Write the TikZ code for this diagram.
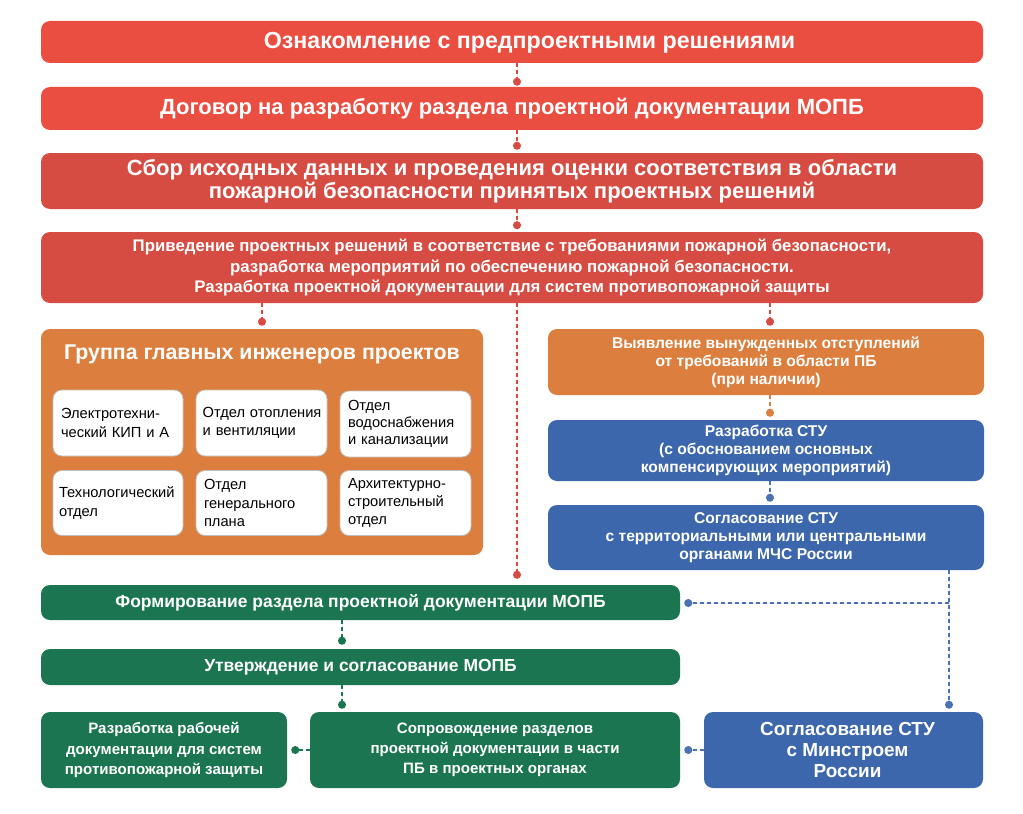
\documentclass[tikz,border=0pt]{standalone}
\usepackage{fontspec}
\setmainfont{Liberation Sans}
\usetikzlibrary{arrows.meta}
\definecolor{cRedA}{HTML}{E94E41}
\definecolor{cRedB}{HTML}{D64C42}
\definecolor{cOrange}{HTML}{DC7F3E}
\definecolor{cBlue}{HTML}{3D67AC}
\definecolor{cBlueL}{HTML}{4A72B5}
\definecolor{cGreen}{HTML}{1B7551}
\begin{document}
\begin{tikzpicture}[x=0.75pt,y=-0.75pt,
  box/.style={rounded corners=6.75pt, text=white, align=center, inner sep=0pt},
  fbig/.style={font=\bfseries\fontsize{16.5}{17.5}\selectfont},
  fmid/.style={font=\bfseries\fontsize{12.6}{15.4}\selectfont},
  fsm/.style={font=\bfseries\fontsize{11.7}{13.4}\selectfont},
  fgr/.style={font=\bfseries\fontsize{13.1}{15}\selectfont},
  fbot/.style={font=\bfseries\fontsize{11.3}{15.2}\selectfont},
  wbox/.style={rounded corners=6.75pt, fill=white, draw=black!25, line width=0.6pt, align=left, inner xsep=6pt, inner ysep=0pt, font=\fontsize{11}{14}\selectfont, minimum height=49.5pt},
  conn/.style={dash pattern=on 3pt off 2.25pt, line width=0.975pt, -{Circle[length=6pt]}, shorten >=1.875pt},
  rc/.style={conn, draw=cRedB, fill=cRedB},
  oc/.style={conn, draw=cOrange, fill=cOrange},
  bc/.style={conn, draw=cBlueL, fill=cBlueL},
  gc/.style={conn, draw=cGreen, fill=cGreen}]
\fill[white] (0,0) rectangle (1023,813);
% top chain
\node[box, fill=cRedA, minimum width=706.5pt, minimum height=31.5pt] (b1) at (512,42) {};
\node[text=white, inner sep=0pt, font=\bfseries\fontsize{17.4}{18}\selectfont] (b1t) at (529.5,43) {Ознакомление с предпроектными решениями};
\node[box, fbig, fill=cRedA, minimum width=706.5pt, minimum height=32.25pt] (b2) at (512,108.5) {Договор на разработку раздела проектной документации МОПБ};
\node[box, fbig, fill=cRedB, minimum width=706.5pt, minimum height=42pt] (b3) at (512,181) {Сбор исходных данных и проведения оценки соответствия в области\\пожарной безопасности принятых проектных решений};
\node[box, fmid, fill=cRedB, minimum width=706.5pt, minimum height=53.25pt] (b4) at (512,267.5) {Приведение проектных решений в соответствие с требованиями пожарной безопасности,\\разработка мероприятий по обеспечению пожарной безопасности.\\Разработка проектной документации для систем противопожарной защиты};
% group
\node[box, fill=cOrange, minimum width=331.5pt, minimum height=169.5pt] (grp) at (262,442) {};
\node[text=white, font=\bfseries\fontsize{16}{18}\selectfont, inner sep=0pt] (gt) at (262,354) {Группа главных инженеров проектов};
\node[wbox, text width=85.5pt] (w11) at (118,423) {\mbox{Электротехни-}\\\mbox{ческий КИП и А}};
\node[wbox, text width=88.25pt, inner xsep=5pt] (w12) at (261.5,423) {\mbox{Отдел отопления}\\\mbox{и вентиляции}};
\node[wbox, text width=86.25pt, font=\fontsize{11}{13}\selectfont] (w13) at (405.5,424) {\mbox{Отдел}\\\mbox{водоснабжения}\\\mbox{и канализации}};
\node[wbox, text width=88.5pt, inner xsep=4.5pt, minimum height=48.75pt] (w21) at (118,503) {\mbox{Технологический}\\\mbox{отдел}};
\node[wbox, text width=86.25pt, minimum height=48.75pt] (w22) at (261.5,503) {\mbox{Отдел}\\\mbox{генерального}\\\mbox{плана}};
\node[wbox, text width=86.25pt, minimum height=48.75pt, font=\fontsize{11}{13.5}\selectfont] (w23) at (405.5,503) {\mbox{Архитектурно-}\\\mbox{строительный}\\\mbox{отдел}};
% right column
\node[box, fsm, fill=cOrange, minimum width=327pt, minimum height=49.5pt] (o1) at (766,362) {Выявление вынужденных отступлений\\от требований в области ПБ\\(при наличии)};
\node[box, fsm, fill=cBlue, minimum width=327pt, minimum height=45.75pt] (s1) at (766,450.5) {Разработка СТУ\\(с обоснованием основных\\компенсирующих мероприятий)};
\node[box, fsm, fill=cBlue, minimum width=327pt, minimum height=48.75pt] (s2) at (766,537.5) {Согласование СТУ\\с территориальными или центральными\\органами МЧС России};
% green
\node[box, fgr, fill=cGreen, minimum width=479.25pt, minimum height=26.25pt] (g1) at (360.5,602.5) {Формирование раздела проектной документации МОПБ};
\node[box, fgr, fill=cGreen, minimum width=479.25pt, minimum height=27pt] (g2) at (360.5,667) {Утверждение и согласование МОПБ};
\node[box, fbot, fill=cGreen, minimum width=184.5pt, minimum height=57pt] (r1) at (164,750) {Разработка рабочей\\документации для систем\\противопожарной защиты};
\node[box, fbot, fill=cGreen, minimum width=277.5pt, minimum height=57pt] (sopr) at (495,750) {Сопровождение разделов\\проектной документации в части\\ПБ в проектных органах};
\node[box, font=\bfseries\fontsize{14.2}{15.5}\selectfont, fill=cBlue, minimum width=209.25pt, minimum height=57pt] (m) at (843.5,750) {\hspace*{6pt}Согласование СТУ\\\hspace*{6pt}с Минстроем\\\hspace*{6pt}России};
% connectors
\draw[rc, shorten >=0.75pt] ([xshift=3.75pt]b1.south) -- ([xshift=3.75pt]b2.north);
\draw[rc, shorten >=2.25pt] ([xshift=3.75pt]b2.south) -- ([xshift=3.75pt]b3.north);
\draw[rc] ([xshift=3.75pt]b3.south) -- ([xshift=3.75pt]b4.north);
\draw[rc, shorten >=2.25pt] (grp.north |- b4.south) -- (grp.north);
\draw[rc, shorten >=2.25pt] ([xshift=3pt]o1.north |- b4.south) -- ([xshift=3pt]o1.north);
\draw[rc, shorten >=4.5pt] ([xshift=3.75pt]b4.south) -- ([xshift=3.75pt]b4.south |- g1.north);
\draw[oc, shorten >=2.25pt] ([xshift=3pt]o1.south) -- ([xshift=3pt]s1.north);
\draw[bc, shorten >=2.25pt] ([xshift=3pt]s1.south) -- ([xshift=3pt]s2.north);
\coordinate (j) at (949,603);
\draw[bc, shorten >=2.25pt] (s2.south -| j) -- (m.north -| j);
\draw[bc, shorten >=3pt] (j) -- (g1.east |- j);
\draw[gc, shorten >=3pt] ([xshift=-13.875pt]g1.south) -- ([xshift=-13.875pt]g2.north);
\draw[gc, shorten >=2.25pt] ([xshift=-13.875pt]g2.south) -- ([xshift=-13.875pt]g2.south |- sopr.north);
\draw[gc, shorten >=3pt] (sopr.west) -- (r1.east);
\draw[bc, shorten >=3pt] (m.west) -- (sopr.east);
\end{tikzpicture}
\end{document}
